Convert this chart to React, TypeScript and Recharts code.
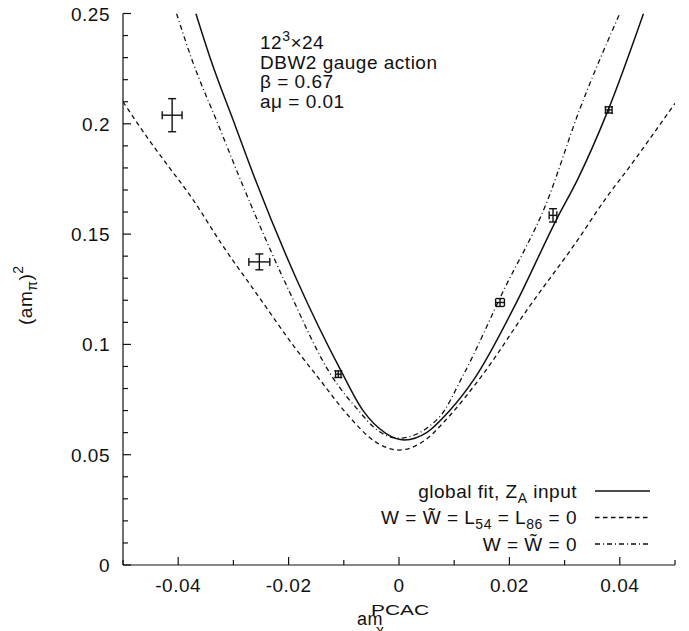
import React from "react";
import { ComposedChart, Line, Scatter, ErrorBar, XAxis, YAxis } from "recharts";

// ---- data ----
const globalFit = [
  { x: -0.0368, y: 0.25 },
  { x: -0.0341, y: 0.229 },
  { x: -0.0296, y: 0.1987 },
  { x: -0.026, y: 0.1745 },
  { x: -0.0185, y: 0.1292 },
  { x: -0.0105, y: 0.088 },
  { x: -0.0066, y: 0.0703 },
  { x: -0.0024, y: 0.0597 },
  { x: 0.001, y: 0.0567 },
  { x: 0.005, y: 0.06 },
  { x: 0.009, y: 0.0695 },
  { x: 0.0137, y: 0.0846 },
  { x: 0.0212, y: 0.1186 },
  { x: 0.0287, y: 0.1575 },
  { x: 0.0323, y: 0.1745 },
  { x: 0.0379, y: 0.2063 },
  { x: 0.0443, y: 0.25 },
];

const zeroLECs = [
  { x: -0.05, y: 0.21 },
  { x: -0.0453, y: 0.1927 },
  { x: -0.0417, y: 0.1805 },
  { x: -0.0377, y: 0.167 },
  { x: -0.032, y: 0.145 },
  { x: -0.0254, y: 0.1216 },
  { x: -0.019, y: 0.099 },
  { x: -0.0145, y: 0.0845 },
  { x: -0.009, y: 0.0672 },
  { x: -0.0045, y: 0.0562 },
  { x: 0.0, y: 0.0521 },
  { x: 0.0045, y: 0.0562 },
  { x: 0.009, y: 0.0672 },
  { x: 0.0149, y: 0.0854 },
  { x: 0.0236, y: 0.1171 },
  { x: 0.032, y: 0.146 },
  { x: 0.0377, y: 0.167 },
  { x: 0.0418, y: 0.1806 },
  { x: 0.0453, y: 0.1927 },
  { x: 0.05, y: 0.2093 },
];

const zeroW = [
  { x: -0.0403, y: 0.25 },
  { x: -0.0375, y: 0.229 },
  { x: -0.0326, y: 0.1987 },
  { x: -0.0287, y: 0.1745 },
  { x: -0.02, y: 0.1247 },
  { x: -0.0123, y: 0.0861 },
  { x: -0.0075, y: 0.0705 },
  { x: -0.0036, y: 0.0605 },
  { x: 0.0, y: 0.0575 },
  { x: 0.0073, y: 0.067 },
  { x: 0.0115, y: 0.0854 },
  { x: 0.019, y: 0.1247 },
  { x: 0.0267, y: 0.164 },
  { x: 0.0327, y: 0.2063 },
  { x: 0.04, y: 0.25 },
];

const measured = [
  { x: -0.0411, y: 0.2039, ex: 0.0018, ey: 0.0075 },
  { x: -0.0253, y: 0.1374, ex: 0.0019, ey: 0.0036 },
  { x: -0.011, y: 0.0865, ex: 0.0005, ey: 0.0015 },
  { x: 0.0183, y: 0.119, ex: 0.0008, ey: 0.0018 },
  { x: 0.0279, y: 0.1585, ex: 0.0007, ey: 0.003 },
  { x: 0.038, y: 0.2063, ex: 0.0006, ey: 0.0014 },
];

const xTicks = [-0.05, -0.04, -0.03, -0.02, -0.01, 0, 0.01, 0.02, 0.03, 0.04, 0.05];
const xLabelTicks = [-0.04, -0.02, 0, 0.02, 0.04];
const yTicks = [
  0, 0.01, 0.02, 0.03, 0.04, 0.05, 0.06, 0.07, 0.08, 0.09, 0.1, 0.11, 0.12, 0.13,
  0.14, 0.15, 0.16, 0.17, 0.18, 0.19, 0.2, 0.21, 0.22, 0.23, 0.24, 0.25,
];
const yLabelTicks = [0, 0.05, 0.1, 0.15, 0.2, 0.25];

const FONT = "'Liberation Sans', Arial, Helvetica, sans-serif";
const INK = "#111";
const FS = 19;
const LS = 0.5;

const isX = (v: number, list: number[]) => list.some((t) => Math.abs(t - v) < 1e-9);

const BottomTick = (props: any) => {
  const { x, y, payload } = props;
  const v = payload.value as number;
  const major = isX(v, xLabelTicks);
  return (
    <g>
      <line x1={x} y1={y} x2={x} y2={y - (major ? 8 : 5)} stroke={INK} strokeWidth={1.2} />
      {major && (
        <text x={x} y={y + 27} textAnchor="middle" fontSize={FS} letterSpacing={LS} fontFamily={FONT} fill={INK}>
          {String(v)}
        </text>
      )}
    </g>
  );
};

const TopTick = (props: any) => {
  const { x, y, payload } = props;
  const v = payload.value as number;
  const major = isX(v, xLabelTicks);
  return <line x1={x} y1={y} x2={x} y2={y + (major ? 8 : 5)} stroke={INK} strokeWidth={1.2} />;
};

const LeftTick = (props: any) => {
  const { x, y, payload } = props;
  const v = payload.value as number;
  const major = isX(v, yLabelTicks);
  return (
    <g>
      <line x1={x} y1={y} x2={x + (major ? 8 : 5)} y2={y} stroke={INK} strokeWidth={1.2} />
      {major && (
        <text x={x - 13} y={y + 7} textAnchor="end" fontSize={FS} letterSpacing={LS} fontFamily={FONT} fill={INK}>
          {String(v)}
        </text>
      )}
    </g>
  );
};

const RightTick = (props: any) => {
  const { x, y, payload } = props;
  const v = payload.value as number;
  const major = isX(v, yLabelTicks);
  return <line x1={x} y1={y} x2={x - (major ? 8 : 5)} y2={y} stroke={INK} strokeWidth={1.2} />;
};

const NoShape = () => <g />;

const DASH = "4.5 3.5";
const DASHDOT = "5 3 1 3";

export default function App() {
  const W = 680;
  const H = 623;
  return (
    <div style={{ position: "relative", width: W, height: H, background: "#fff" }}>
      <ComposedChart
        width={W}
        height={H}
        margin={{ top: 5.5, right: 13, bottom: 0, left: 0 }}
        style={{ fontFamily: FONT, overflow: "visible" }}
      >
        <XAxis
          xAxisId="b"
          dataKey="x"
          type="number"
          domain={[-0.05, 0.05]}
          ticks={xTicks}
          allowDataOverflow
          height={66}
          tickSize={0}
          tickMargin={0}
          axisLine={{ stroke: INK, strokeWidth: 1.2 }}
          tickLine={false}
          tick={<BottomTick />}
          interval={0}
        />
        <XAxis
          xAxisId="t"
          orientation="top"
          type="number"
          domain={[-0.05, 0.05]}
          ticks={xTicks}
          allowDataOverflow
          height={0}
          tickSize={0}
          tickMargin={0}
          axisLine={{ stroke: INK, strokeWidth: 1.2 }}
          tickLine={false}
          tick={<TopTick />}
          interval={0}
        />
        <YAxis
          yAxisId="l"
          type="number"
          domain={[0, 0.25]}
          ticks={yTicks}
          allowDataOverflow
          width={115}
          tickSize={0}
          tickMargin={0}
          axisLine={{ stroke: INK, strokeWidth: 1.2 }}
          tickLine={false}
          tick={<LeftTick />}
          interval={0}
        />
        <YAxis
          yAxisId="r"
          orientation="right"
          type="number"
          domain={[0, 0.25]}
          ticks={yTicks}
          allowDataOverflow
          width={0}
          tickSize={0}
          tickMargin={0}
          axisLine={{ stroke: INK, strokeWidth: 1.2 }}
          tickLine={false}
          tick={<RightTick />}
          interval={0}
        />
        <Line
          xAxisId="b"
          yAxisId="l"
          data={globalFit}
          dataKey="y"
          type="monotone"
          dot={false}
          stroke={INK}
          strokeWidth={1.5}
          isAnimationActive={false}
        />
        <Line
          xAxisId="b"
          yAxisId="l"
          data={zeroLECs}
          dataKey="y"
          type="monotone"
          dot={false}
          stroke={INK}
          strokeWidth={1.3}
          strokeDasharray={DASH}
          isAnimationActive={false}
        />
        <Line
          xAxisId="b"
          yAxisId="l"
          data={zeroW}
          dataKey="y"
          type="monotone"
          dot={false}
          stroke={INK}
          strokeWidth={1.3}
          strokeDasharray={DASHDOT}
          isAnimationActive={false}
        />
        <Scatter
          xAxisId="b"
          yAxisId="l"
          data={measured}
          dataKey="y"
          shape={<NoShape />}
          isAnimationActive={false}
        >
          <ErrorBar dataKey="ey" direction="y" width={4} stroke={INK} strokeWidth={1.4} isAnimationActive={false} />
          <ErrorBar dataKey="ex" direction="x" width={4} stroke={INK} strokeWidth={1.4} isAnimationActive={false} />
        </Scatter>
      </ComposedChart>

      <svg
        width={W}
        height={631}
        style={{ position: "absolute", left: 0, top: 0, pointerEvents: "none", overflow: "visible" }}
        fontFamily={FONT}
        fill={INK}
      >
        {/* annotation */}
        <text x={252} y={41} fontSize={FS} letterSpacing={LS}>
          12<tspan dy={-8} fontSize={14}>3</tspan>
          <tspan dy={8}>×24</tspan>
        </text>
        <text x={252} y={60.5} fontSize={FS} letterSpacing={LS}>DBW2 gauge action</text>
        <text x={252} y={80} fontSize={FS} letterSpacing={LS}>β = 0.67</text>
        <text x={252} y={99.5} fontSize={FS} letterSpacing={LS}>aμ = 0.01</text>

        {/* legend */}
        <text x={569} y={489.5} fontSize={FS} letterSpacing={LS} textAnchor="end">
          global fit, Z<tspan dy={5} fontSize={14}>A</tspan>
          <tspan dy={-5}> input</tspan>
        </text>
        <line x1={587} y1={483} x2={642} y2={483} stroke={INK} strokeWidth={1.5} />
        <text x={569} y={516} fontSize={FS} letterSpacing={LS} textAnchor="end">
          W = W{"\u0303"} = L<tspan dy={5} fontSize={14}>54</tspan>
          <tspan dy={-5}> = L</tspan>
          <tspan dy={5} fontSize={14}>86</tspan>
          <tspan dy={-5}> = 0</tspan>
        </text>
        <line x1={587} y1={509.5} x2={642} y2={509.5} stroke={INK} strokeWidth={1.3} strokeDasharray={DASH} />
        <text x={569} y={542.5} fontSize={FS} letterSpacing={LS} textAnchor="end">
          W = W{"\u0303"} = 0
        </text>
        <line x1={587} y1={536} x2={642} y2={536} stroke={INK} strokeWidth={1.3} strokeDasharray={DASHDOT} />

        {/* axis titles */}
        <g transform="translate(24,317) rotate(-90)">
          <text x={0} y={0} fontSize={FS} letterSpacing={LS}>
            (am<tspan dy={5} fontSize={14}>π</tspan>
            <tspan dy={-5}>)</tspan>
            <tspan dy={-9} fontSize={14}>2</tspan>
          </text>
        </g>
        <text x={349} y={617} fontSize={18} letterSpacing={LS}>am</text>
        <text x={363} y={607} fontSize={15.5} textLength={58} lengthAdjust="spacingAndGlyphs">PCAC</text>
        <text x={368} y={627} fontSize={15}>χ</text>
      </svg>
    </div>
  );
}
